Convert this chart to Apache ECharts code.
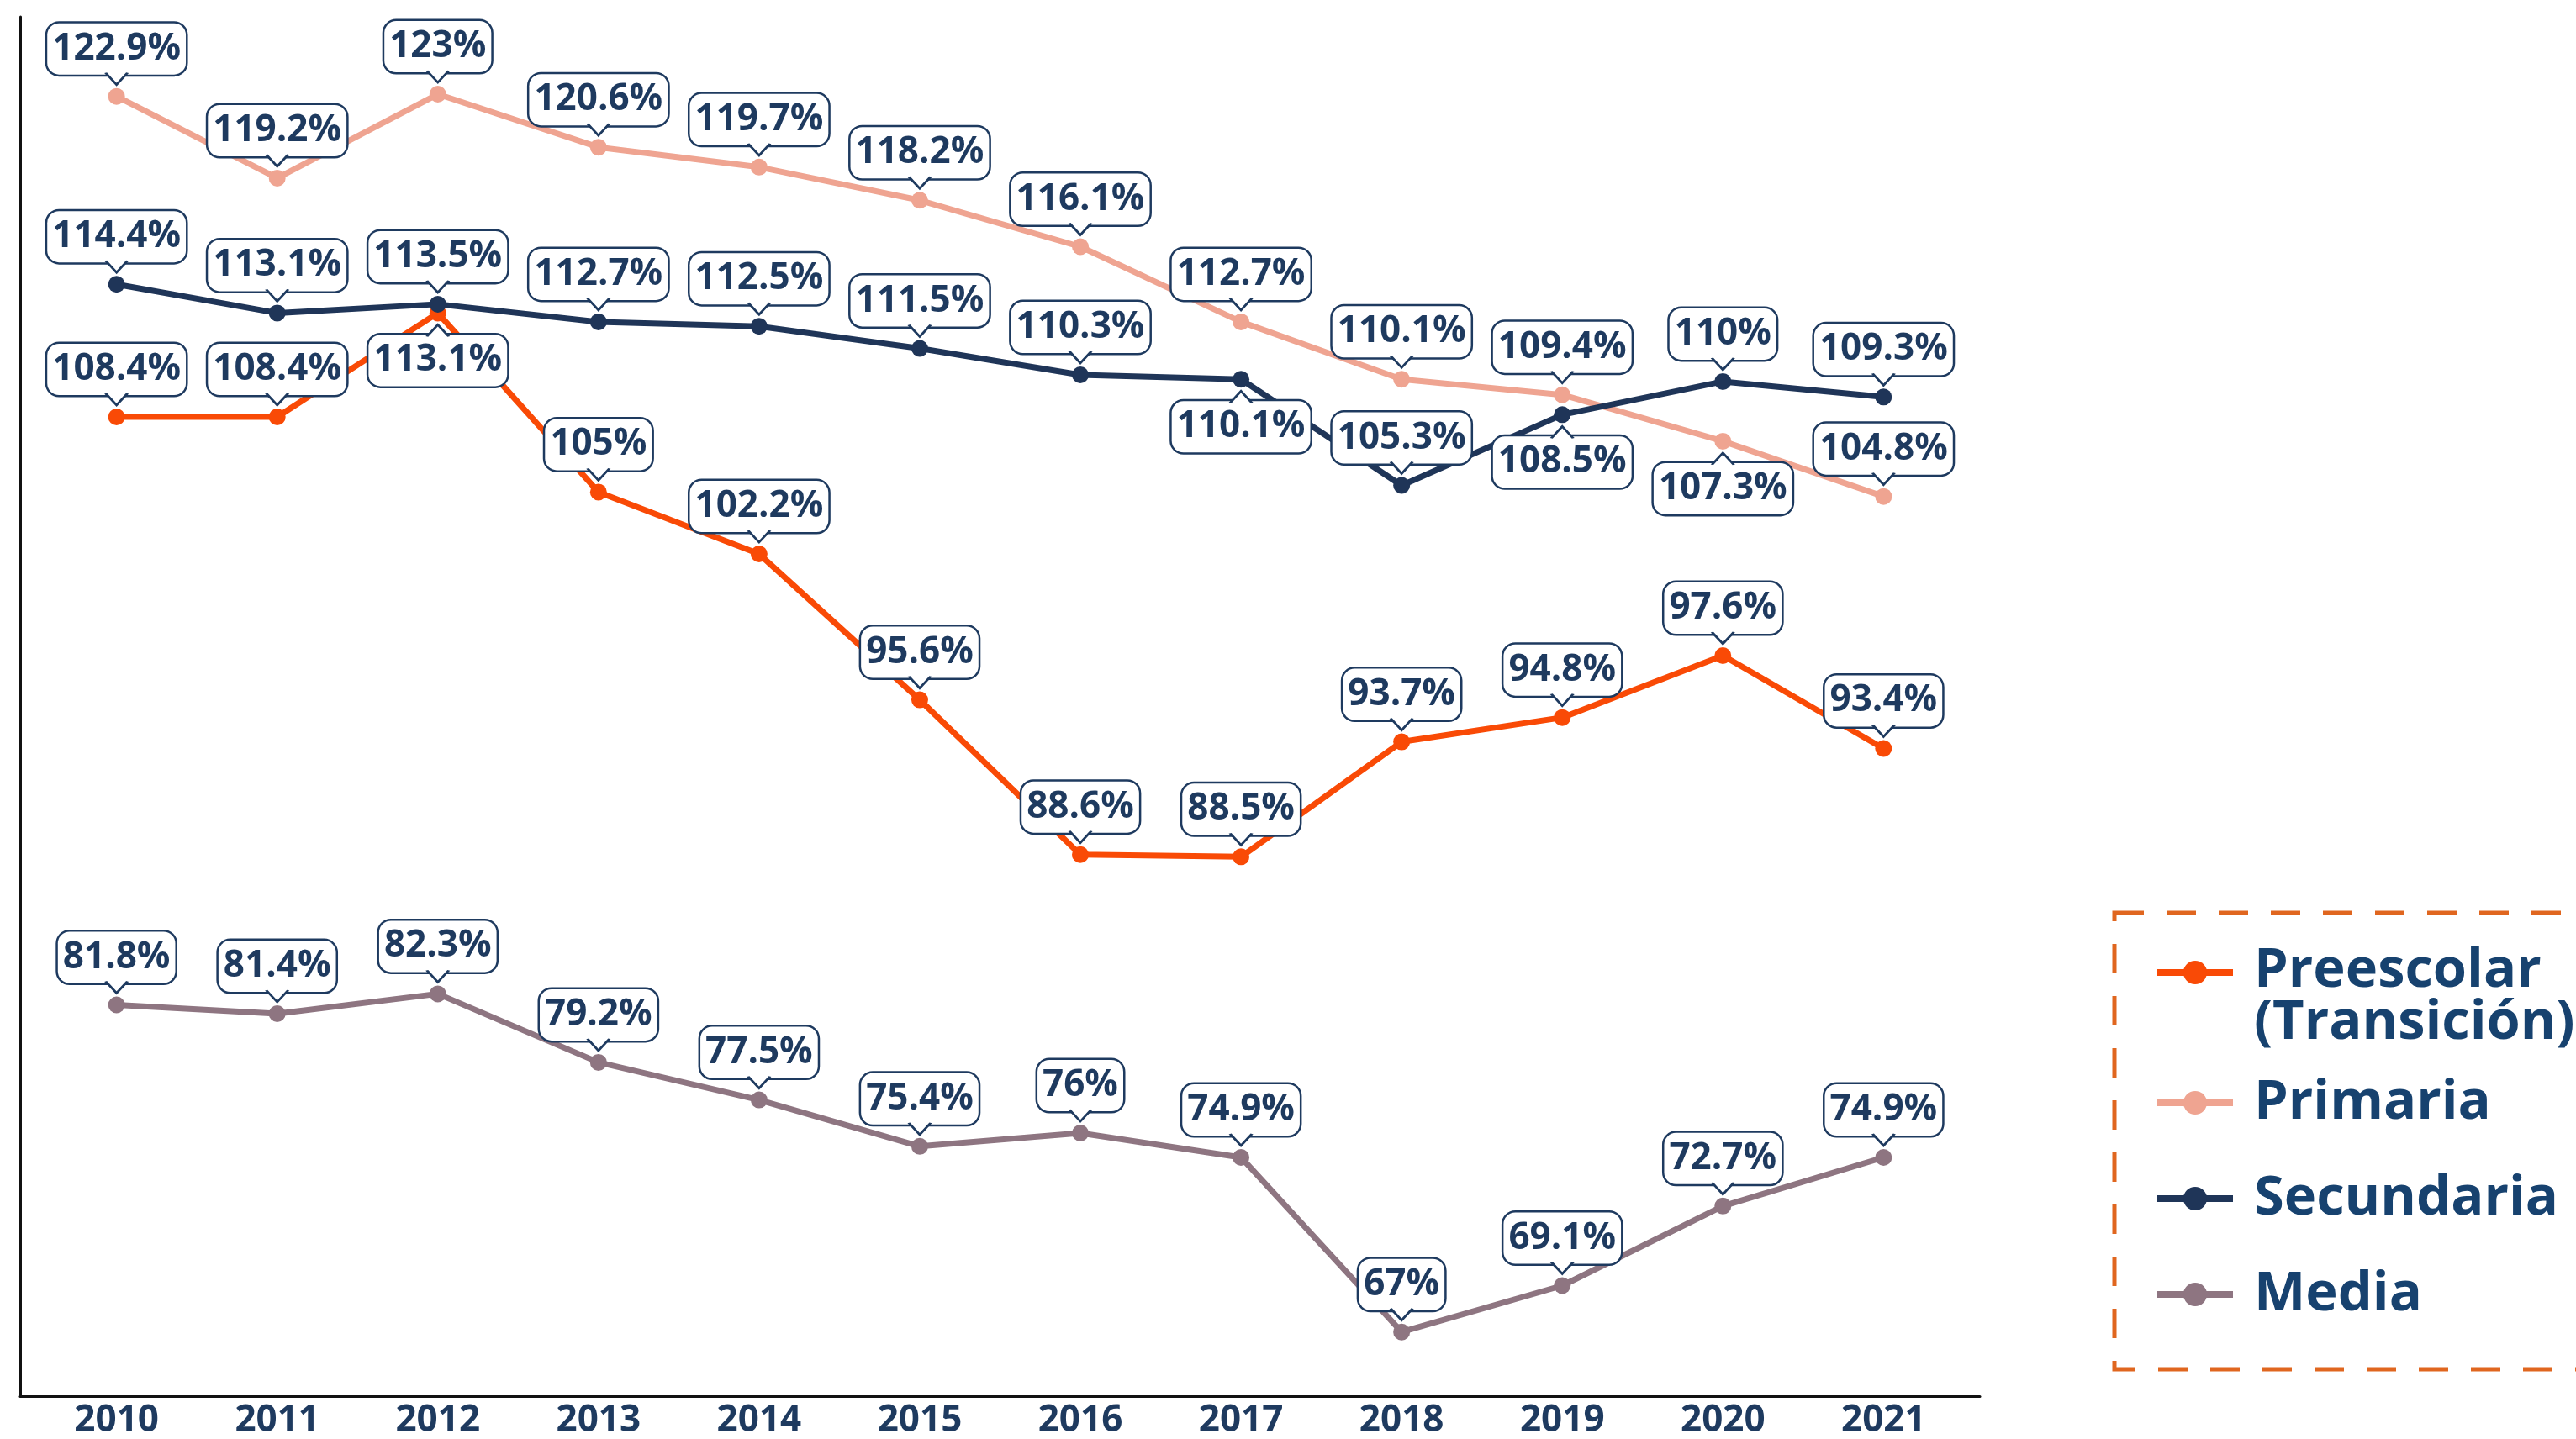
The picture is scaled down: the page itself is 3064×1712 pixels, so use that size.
<!DOCTYPE html>
<html>
<head>
<meta charset="utf-8">
<script src="https://cdn.jsdelivr.net/npm/echarts@6/dist/echarts.min.js"></script>
<style>
  html, body { margin: 0; padding: 0; background: #fff; }
  #chart { width: 3064px; height: 1712px; }
</style>
</head>
<body>
<div id="chart"></div>
<script>
// Data
const years = [2010, 2011, 2012, 2013, 2014, 2015, 2016, 2017, 2018, 2019, 2020, 2021];
const preescolar = [108.4, 108.4, 113.1, 105, 102.2, 95.6, 88.6, 88.5, 93.7, 94.8, 97.6, 93.4];
const primaria = [122.9, 119.2, 123, 120.6, 119.7, 118.2, 116.1, 112.7, 110.1, 109.4, 107.3, 104.8];
const secundaria = [114.4, 113.1, 113.5, 112.7, 112.5, 111.5, 110.3, 110.1, 105.3, 108.5, 110, 109.3];
const media = [81.8, 81.4, 82.3, 79.2, 77.5, 75.4, 76, 74.9, 67, 69.1, 72.7, 74.9];
const seriesNames = ["Preescolar (Transición)", "Primaria", "Secundaria", "Media"];

// years whose bubble sits under the point
const belowPreescolar = [2012];
const belowPrimaria = [2020];
const belowSecundaria = [2017, 2019];
const belowMedia = [];

const NAVY = "#1e3a5f";
const LEGEND_TEXT = "#17426f";
const FONT = "Open Sans";

const chartDom = document.getElementById("chart");
const myChart = echarts.init(chartDom);

// build [x, y] points, flipping some labels below
const buildData = (values, below) =>
  values.map((v, i) => {
    const item = { value: [years[i], v] };
    if (below.includes(years[i])) item.label = { position: "bottom" };
    return item;
  });

// the little V under/over each bubble
const buildPointers = (values, below) =>
  values.map((v, i) => {
    const down = below.includes(years[i]);
    return {
      coord: [years[i], v],
      symbolRotate: down ? 180 : 0,
      symbolOffset: [0, down ? 21 : -21],
    };
  });

const makeSeries = (name, values, below, color) => ({
  name: name,
  type: "line",
  data: buildData(values, below),
  symbol: "circle",
  symbolSize: 20,
  lineStyle: { color: color, width: 7 },
  itemStyle: { color: color },
  label: {
    show: true,
    position: "top",
    distance: 16,
    formatter: (p) => p.value[1] + "%",
    fontFamily: FONT,
    fontWeight: "bold",
    fontSize: 44,
    lineHeight: 45,
    color: NAVY,
    backgroundColor: "#fff",
    borderColor: NAVY,
    borderWidth: 2.5,
    borderRadius: 14,
    padding: [8, 6, 8, 6],
  },
  markPoint: {
    symbol: "path://M0 0 L13 14 L26 0",
    symbolSize: [26, 14],
    silent: true,
    label: { show: false },
    itemStyle: { color: "#fff", borderColor: NAVY, borderWidth: 2.5 },
    data: buildPointers(values, below),
  },
});

const legendFont = { fontFamily: FONT, fontWeight: "bold", fontSize: 65, color: LEGEND_TEXT };

const option = {
  animation: false,
  backgroundColor: "#fff",
  grid: { left: 24, right: 709, top: 20, bottom: 49 },
  xAxis: {
    type: "value",
    min: 2009.4,
    max: 2021.6,
    splitLine: { show: false },
    axisTick: { show: false },
    axisLine: { show: true, lineStyle: { color: "#111", width: 3 } },
    axisLabel: {
      customValues: years,
      formatter: (v) => String(v),
      fontFamily: FONT,
      fontWeight: "bold",
      fontSize: 44,
      lineHeight: 44,
      color: NAVY,
      margin: 7,
    },
  },
  yAxis: {
    type: "value",
    min: 64.1,
    max: 126.5,
    splitLine: { show: false },
    axisTick: { show: false },
    axisLabel: { show: false },
    axisLine: { show: true, lineStyle: { color: "#111", width: 3 } },
  },
  legend: {
    orient: "vertical",
    left: 2562,
    top: 1064,
    padding: 0,
    itemGap: 10,
    itemWidth: 90,
    itemHeight: 35,
    selectedMode: false,
    lineStyle: { width: 8 },
    formatter: (name) =>
      name === seriesNames[0]
        ? "{p|Preescolar}{s|}\n{p|(Transición)}"
        : name,
    textStyle: {
      ...legendFont,
      lineHeight: 104,
      padding: [0, 0, 0, 20],
      rich: {
        p: { ...legendFont, lineHeight: 62, verticalAlign: "bottom" },
        s: { lineHeight: 124, height: 124, width: 0 },
      },
    },
    data: seriesNames,
  },
  graphic: [
    {
      type: "rect",
      silent: true,
      shape: { x: 2515, y: 1086, width: 640, height: 543 },
      style: { fill: null, stroke: "#e0661f", lineWidth: 5, lineDash: [35, 27] },
    },
  ],
  series: [
    makeSeries(seriesNames[0], preescolar, belowPreescolar, "#f94a06"),
    makeSeries(seriesNames[1], primaria, belowPrimaria, "#efa491"),
    makeSeries(seriesNames[2], secundaria, belowSecundaria, "#1f3558"),
    makeSeries(seriesNames[3], media, belowMedia, "#8e7581"),
  ],
};

myChart.setOption(option);
window.addEventListener("resize", () => myChart.resize());
</script>
</body>
</html>
